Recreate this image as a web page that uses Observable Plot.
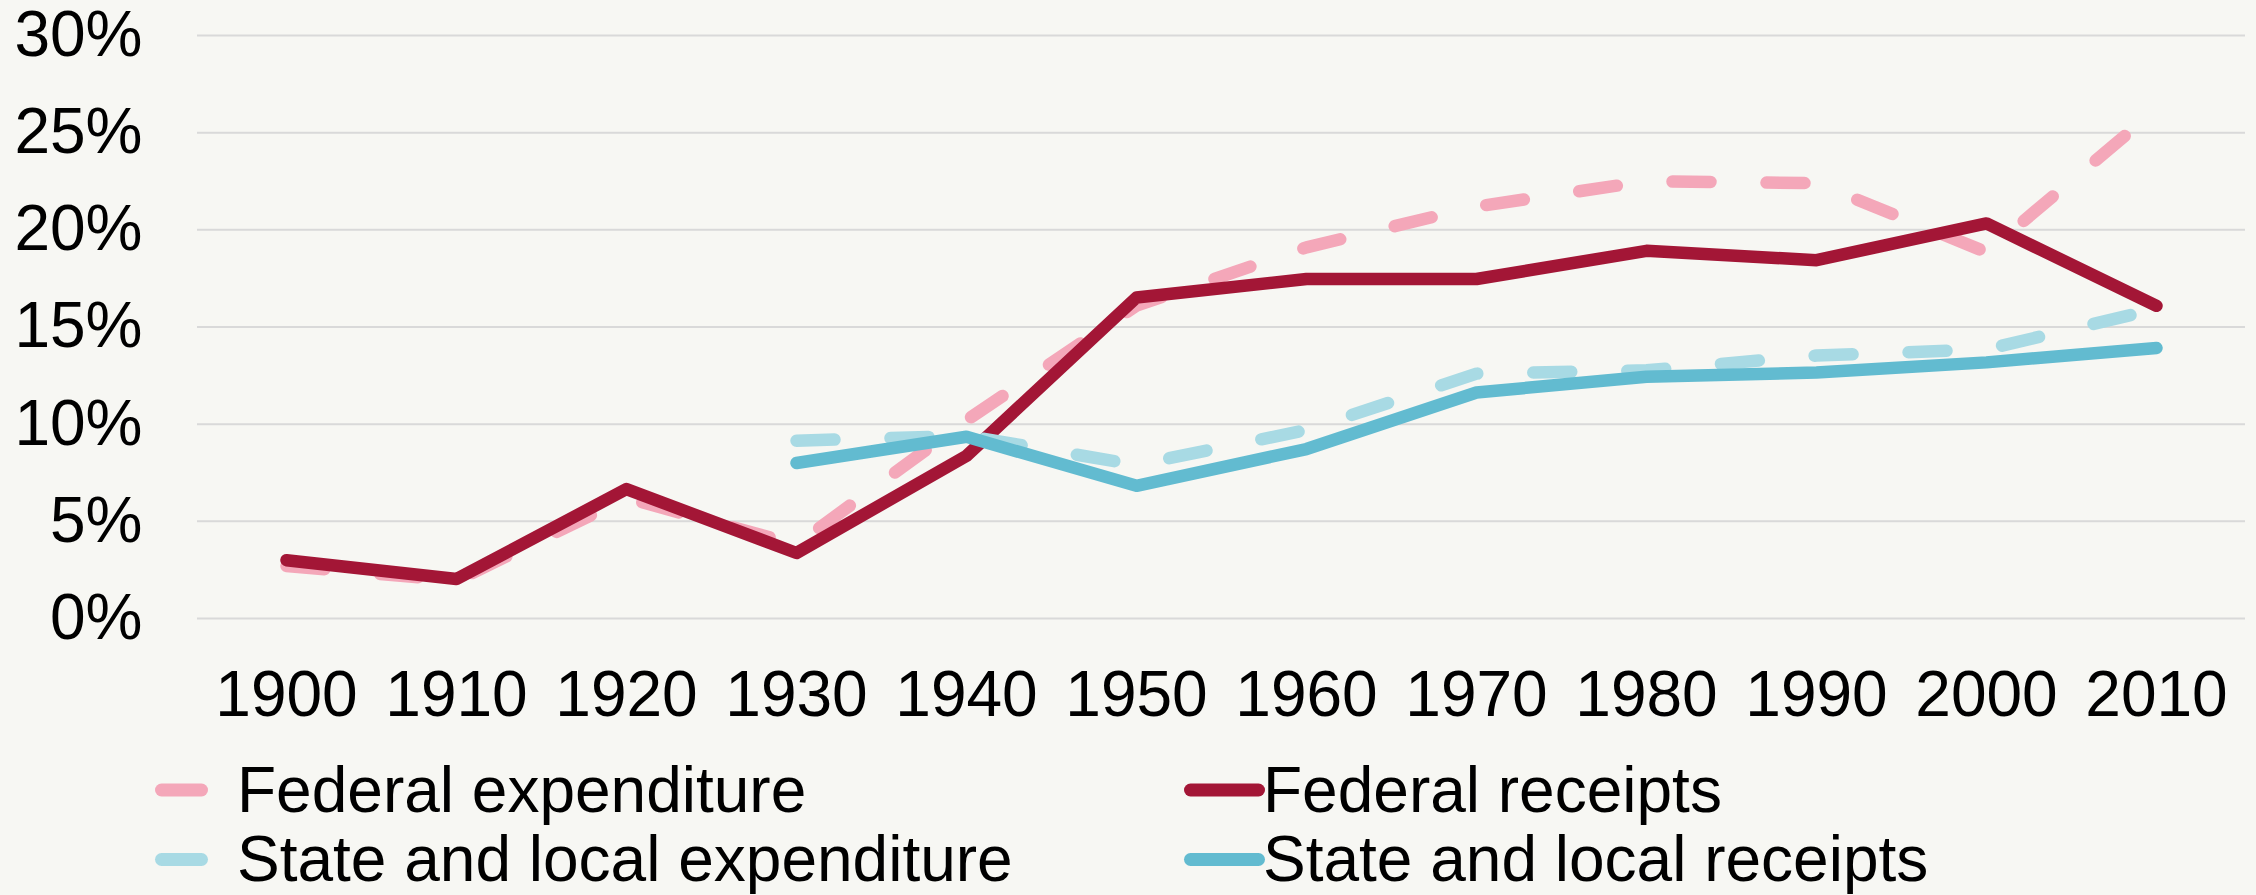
<!DOCTYPE html>
<html>
<head>
<meta charset="utf-8">
<script src="https://cdn.jsdelivr.net/npm/d3@7"></script>
<script src="https://cdn.jsdelivr.net/npm/@observablehq/plot@0.6"></script>
<style>
html, body { margin: 0; padding: 0; background: #f7f7f3; }
#wrap { position: relative; width: 2256px; height: 895px; background: #f7f7f3; font-family: "Liberation Sans", Arial, sans-serif; }
#wrap svg { display: block; }
</style>
</head>
<body>
<div id="wrap"></div>
<script>
// ---- Data (percent of GDP) ----
const years = [1900, 1910, 1920, 1930, 1940, 1950, 1960, 1970, 1980, 1990, 2000, 2010];
const fedExpenditure   = [2.7, 1.95, 6.2, 3.8, 10.2, 16.1, 19.1, 21.2, 22.5, 22.4, 18.85, 26.2];
const fedReceipts      = [3.0, 2.03, 6.66, 3.37, 8.37, 16.52, 17.47, 17.47, 18.92, 18.44, 20.33, 16.09];
const stateExpenditure = [null, null, null, 9.15, 9.4, 7.9, 9.7, 12.6, 12.77, 13.53, 13.85, 15.93];
const stateReceipts    = [null, null, null, 8.0, 9.35, 6.83, 8.72, 11.63, 12.44, 12.66, 13.18, 13.92];
const yTicks = [0, 5, 10, 15, 20, 25, 30];
const seriesNames = ["Federal expenditure", "Federal receipts", "State and local expenditure", "State and local receipts"];
const seriesValues = [fedExpenditure, fedReceipts, stateExpenditure, stateReceipts];
const seriesColors = ["#f4a7b9", "#a31636", "#a8dae4", "#62bbd0"];
const seriesDashed = [true, false, true, false];

const FONT = '"Liberation Sans", Arial, sans-serif';
const DASH = "38,56";

const rows = [];
seriesNames.forEach((name, k) => {
  seriesValues[k].forEach((v, i) => {
    if (v != null) rows.push({ year: years[i], value: v, series: name });
  });
});

const chart = Plot.plot({
  width: 2256,
  height: 740,
  marginLeft: 197,
  marginRight: 11,
  marginTop: 35,
  marginBottom: 122,
  style: { background: "transparent", fontFamily: FONT, fontSize: "64px", color: "#000", overflow: "visible" },
  x: { type: "point", domain: years, padding: 0.5, label: null },
  y: { domain: [0, 30], ticks: yTicks, label: null },
  marks: [
    Plot.ruleY(yTicks, { stroke: "#d9d9d9", strokeWidth: 2 }),
    Plot.axisY({ ticks: yTicks, tickSize: 0, tickPadding: 55, tickFormat: d => d + "%", label: null, fontSize: 64, fill: "#000" }),
    Plot.axisX({ tickSize: 0, tickPadding: 52, tickFormat: d => String(d), label: null, fontSize: 64, fill: "#000" }),
    ...seriesNames.map((name, k) => Plot.line(rows.filter(r => r.series === name), {
      x: "year", y: "value",
      stroke: seriesColors[k], strokeWidth: 12.5,
      strokeDasharray: seriesDashed[k] ? DASH : null,
      strokeLinecap: "round", strokeLinejoin: "round"
    }))
  ]
});
const wrap = document.getElementById("wrap");
chart.style.position = "absolute";
chart.style.left = "0px";
chart.style.top = "0px";
wrap.appendChild(chart);

// ---- Legend (below the chart) ----
const legTop = 740;
const leg = d3.select(wrap).append("svg")
  .attr("width", 2256).attr("height", 155)
  .style("position", "absolute").style("left", "0px").style("top", legTop + "px");
const legItems = [
  { k: 0, col: 0, row: 0 }, { k: 1, col: 1, row: 0 },
  { k: 2, col: 0, row: 1 }, { k: 3, col: 1, row: 1 }
];
const rowCenter = [50, 119.5];
const rowBase = [71.7, 140.5];
const colSw = [[161.5, 201.5], [1190.5, 1258.5]];
const colText = [237, 1263];
legItems.forEach(it => {
  const g = leg.append("g");
  g.append("line")
    .attr("x1", colSw[it.col][0]).attr("x2", colSw[it.col][1])
    .attr("y1", rowCenter[it.row]).attr("y2", rowCenter[it.row])
    .attr("stroke", seriesColors[it.k]).attr("stroke-width", 13)
    .attr("stroke-linecap", "round");
  g.append("text")
    .attr("x", colText[it.col]).attr("y", rowBase[it.row])
    .attr("font-family", FONT).attr("font-size", 64).attr("fill", "#000")
    .text(seriesNames[it.k]);
});
</script>
</body>
</html>
